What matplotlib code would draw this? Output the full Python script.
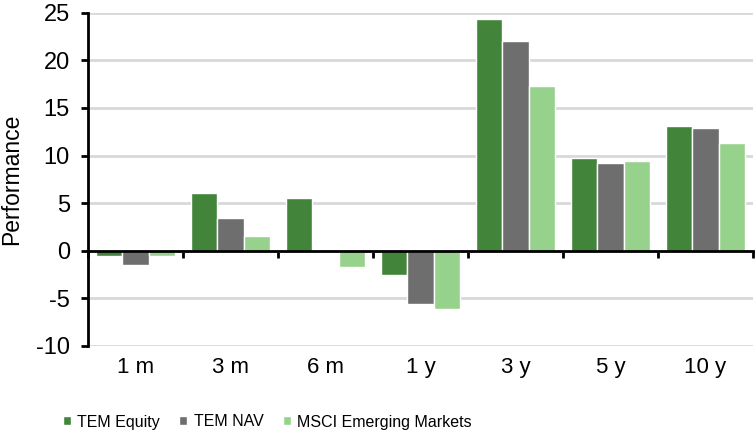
import numpy as np
import matplotlib
matplotlib.use("Agg")
import matplotlib.pyplot as plt

periods = ["1 m", "3 m", "6 m", "1 y", "3 y", "5 y", "10 y"]
tem_equity = [-0.6, 6.05, 5.5, -2.5, 24.3, 9.7, 13.1]
tem_nav = [-1.45, 3.45, 0.0, -5.6, 22.0, 9.2, 12.85]
msci_em = [-0.6, 1.6, -1.7, -6.15, 17.3, 9.45, 11.3]

series = [("TEM Equity", tem_equity, "#41843a"),
          ("TEM NAV", tem_nav, "#6e6e6e"),
          ("MSCI Emerging Markets", msci_em, "#97d28d")]

plt.rcParams['font.family'] = ['Liberation Sans', 'DejaVu Sans']
plt.rcParams['axes.unicode_minus'] = False

fig = plt.figure(figsize=(7.55, 4.37), dpi=100)
ax = fig.add_axes([88 / 755, 91 / 437, 665 / 755, (346 - 12.7) / 437])

x = np.arange(len(periods))
width = 0.278
for i, (name, vals, col) in enumerate(series):
    ax.bar(x + (i - 1) * width, vals, width, color=col, edgecolor="white",
           linewidth=1, label=name, zorder=3)

ax.set_xlim(-0.5, len(periods) - 0.5)
ax.set_ylim(-10, 25)
ax.set_yticks(np.arange(-10, 26, 5))
ax.yaxis.grid(True, color="#d8d8d8", linewidth=2, zorder=0)
ax.set_axisbelow(True)

# zero line with ticks between the periods
ax.spines['bottom'].set_position(('data', 0))
ax.spines['bottom'].set_linewidth(2)
ax.spines['bottom'].set_zorder(4)
ax.set_xticks(np.arange(len(periods) + 1) - 0.5)
ax.tick_params(axis='x', direction='out', length=5, width=2, labelbottom=False)
ax.spines['top'].set_visible(False)
ax.spines['right'].set_visible(False)
ax.spines['left'].set_linewidth(2)
ax.tick_params(axis='y', direction='out', length=5, width=2, labelsize=17, pad=8)

sec = ax.secondary_xaxis('bottom')
sec.set_xticks(x)
sec.set_xticklabels(periods)
sec.tick_params(length=0, labelsize=16, pad=8)
sec.spines['bottom'].set_visible(False)

ax.set_ylabel("Performance", fontsize=16.5)
ax.yaxis.set_label_coords(-0.097, 0.5)

fig.legend(loc='center left', bbox_to_anchor=(55 / 755, 1 - 422 / 437),
           ncol=3, frameon=False, borderpad=0, handlelength=0.5, handleheight=0.5,
           handletextpad=0.4, columnspacing=1.2, prop={'size': 11.5})

fig.savefig("out.png", dpi=100)
